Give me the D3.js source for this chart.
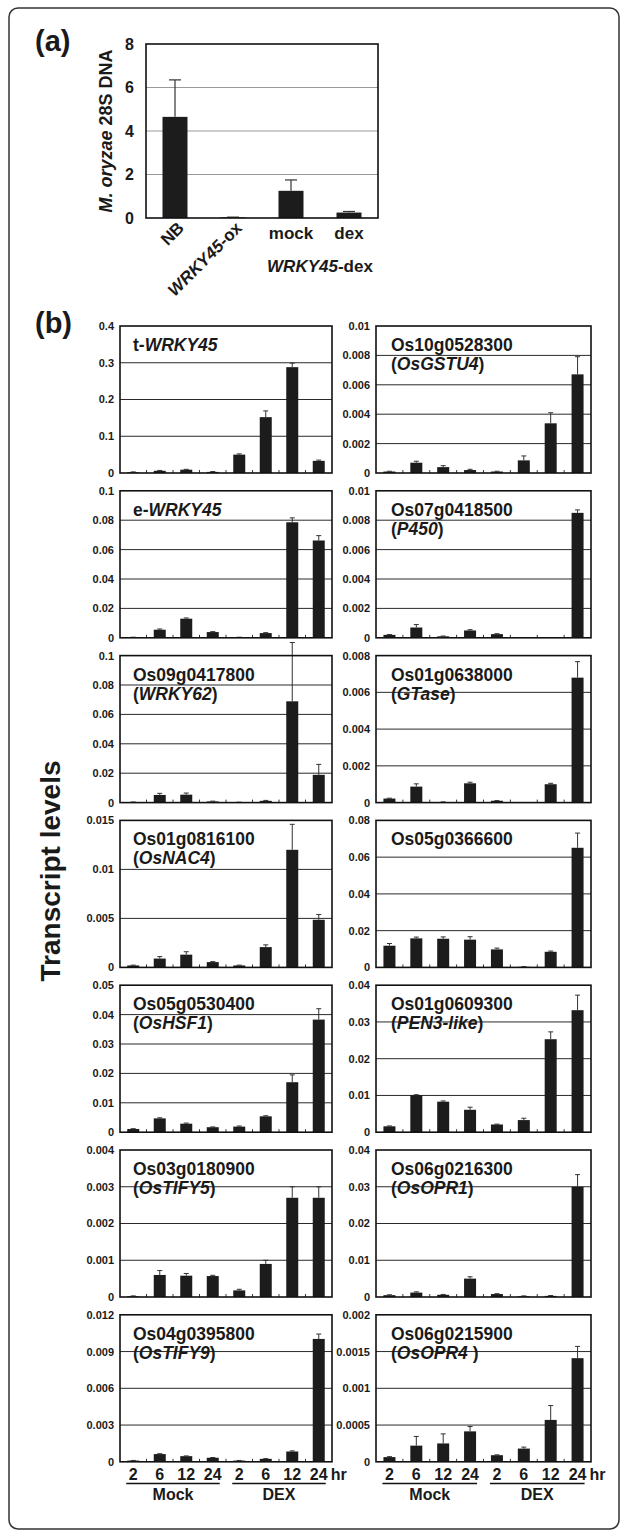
<!DOCTYPE html>
<html>
<head>
<meta charset="utf-8">
<script src="https://cdn.jsdelivr.net/npm/d3@7"></script>
<style>
  body { margin: 0; background: #fff; }
  text { font-family: "Liberation Sans", Arial, sans-serif; font-weight: bold; fill: #1a1a1a; }
</style>
</head>
<body>
<div id="viz"></div>
<script>
var width = 627;
var height = 1531;

// ---- panel (a) data
var aCategories = ["NB", "WRKY45-ox", "mock", "dex"];
var aValues = [4.65, 0.03, 1.25, 0.25];
var aErrors = [1.7, 0.01, 0.5, 0.05];
var aTicks = [0, 2, 4, 6, 8];

// ---- panel (b) data
var timeLabels = ["2", "6", "12", "24", "2", "6", "12", "24"];
var groupLabels = ["Mock", "DEX"];

var geneIds = ["t-", "Os10g0528300", "e-", "Os07g0418500", "Os09g0417800", "Os01g0638000",
  "Os01g0816100", "Os05g0366600", "Os05g0530400", "Os01g0609300", "Os03g0180900", "Os06g0216300",
  "Os04g0395800", "Os06g0215900"];
var geneNames = ["WRKY45", "OsGSTU4", "WRKY45", "P450", "WRKY62", "GTase",
  "OsNAC4", "", "OsHSF1", "PEN3-like", "OsTIFY5", "OsOPR1", "OsTIFY9", "OsOPR4 "];
var yMax = [0.4, 0.01, 0.1, 0.01, 0.1, 0.008, 0.015, 0.08, 0.05, 0.04, 0.004, 0.04, 0.012, 0.002];
var yStep = [0.1, 0.002, 0.02, 0.002, 0.02, 0.002, 0.005, 0.02, 0.01, 0.01, 0.001, 0.01, 0.003, 0.0005];

var tWRKY45 = [0.002, 0.006, 0.009, 0.003, 0.05, 0.152, 0.288, 0.033];
var tWRKY45Err = [0.001, 0.001, 0.001, 0.001, 0.002, 0.017, 0.011, 0.002];
var gstu4 = [0.0001, 0.0007, 0.0004, 0.0002, 0.0001, 0.00086, 0.00338, 0.00671];
var gstu4Err = [0.00002, 0.0001, 0.0001, 0.00005, 0.00002, 0.0003, 0.00072, 0.0012];
var eWRKY45 = [0.0003, 0.0055, 0.013, 0.0039, 0.0003, 0.0032, 0.0786, 0.0662];
var eWRKY45Err = [0.0001, 0.0005, 0.0005, 0.0003, 0.0001, 0.0003, 0.003, 0.0033];
var p450 = [0.0002, 0.0007, 0.0001, 0.0005, 0.00025, 0.00003, 0.00003, 0.0085];
var p450Err = [0.00002, 0.0002, 0.00002, 0.00005, 0.00003, 0, 0, 0.0002];
var wrky62 = [0.0003, 0.0052, 0.0054, 0.0008, 0.0002, 0.0012, 0.0689, 0.0189];
var wrky62Err = [0.0001, 0.0011, 0.0011, 0.0002, 0.0001, 0.0003, 0.04, 0.0071];
var gtase = [0.00022, 0.00087, 0.00003, 0.00105, 0.0001, 0.00001, 0.001, 0.0068];
var gtaseErr = [0.00002, 0.00015, 0.00001, 0.00006, 0.00001, 0, 0.00005, 0.00087];
var nac4 = [0.0002, 0.0009, 0.0013, 0.00054, 0.0002, 0.00207, 0.012, 0.00486];
var nac4Err = [0.00003, 0.0002, 0.0003, 0.00005, 0.00003, 0.00023, 0.0026, 0.00054];
var os0366600 = [0.0118, 0.0158, 0.0156, 0.0151, 0.0098, 0.0003, 0.0085, 0.0651];
var os0366600Err = [0.0012, 0.0007, 0.001, 0.0016, 0.0007, 0.0001, 0.0004, 0.008];
var hsf1 = [0.0011, 0.0047, 0.0029, 0.0017, 0.0019, 0.0054, 0.017, 0.0383];
var hsf1Err = [0.0001, 0.0002, 0.0002, 0.0001, 0.0002, 0.0002, 0.0025, 0.0037];
var pen3 = [0.0016, 0.0101, 0.0083, 0.0061, 0.0021, 0.0033, 0.0253, 0.0332];
var pen3Err = [0.0001, 0.0001, 0.0002, 0.0007, 0.0001, 0.0005, 0.002, 0.0041];
var tify5 = [0.00002, 0.0006, 0.00058, 0.00057, 0.00018, 0.0009, 0.0027, 0.0027];
var tify5Err = [0.00001, 0.00012, 0.00006, 0.00002, 0.00003, 0.0001, 0.0003, 0.0003];
var opr1 = [0.0005, 0.0012, 0.0006, 0.005, 0.0008, 0.0002, 0.0003, 0.03];
var opr1Err = [0.0001, 0.0002, 0.0001, 0.0005, 0.0001, 0.0001, 0.0001, 0.0033];
var tify9 = [0.0001, 0.00063, 0.00046, 0.00033, 0.0001, 0.00024, 0.00084, 0.01003];
var tify9Err = [0.00001, 0.00003, 0.00002, 0.00002, 0.00001, 0.00002, 0.00005, 0.0004];
var opr4 = [0.000064, 0.00022, 0.00025, 0.000414, 0.00009, 0.00018, 0.00057, 0.00141];
var opr4Err = [0.000006, 0.000125, 0.00013, 0.000066, 0.000005, 0.00002, 0.000195, 0.00016];

var bValues = [tWRKY45, gstu4, eWRKY45, p450, wrky62, gtase, nac4, os0366600, hsf1, pen3, tify5, opr1, tify9, opr4];
var bErrors = [tWRKY45Err, gstu4Err, eWRKY45Err, p450Err, wrky62Err, gtaseErr, nac4Err, os0366600Err,
  hsf1Err, pen3Err, tify5Err, opr1Err, tify9Err, opr4Err];

var svg = d3.select("#viz")
  .append("svg")
    .attr("width", width)
    .attr("height", height)
    .style("background-color", "#fff");

// outer frame
svg.append("rect")
  .attr("x", 9).attr("y", 8)
  .attr("width", 610).attr("height", 1521)
  .attr("rx", 9)
  .attr("fill", "none")
  .attr("stroke", "#333")
  .attr("stroke-width", 1.5);

svg.append("text").attr("x", 35).attr("y", 51).style("font-size", "29px").text("(a)");
svg.append("text").attr("x", 35).attr("y", 333).style("font-size", "29px").text("(b)");

//---------------- panel (a)
var ax0 = 146, ax1 = 378, ay0 = 44, ay1 = 218;
var xa = d3.scaleBand().domain(aCategories).range([ax0, ax1]);
var ya = d3.scaleLinear().domain([0, 8]).range([ay1, ay0]);

var ga = svg.append("g");
ga.selectAll("line.grid")
  .data(aTicks.slice(1, -1))
  .join("line")
    .attr("x1", ax0).attr("x2", ax1)
    .attr("y1", d => ya(d)).attr("y2", d => ya(d))
    .attr("stroke", "#9a9a9a").attr("stroke-width", 1);

ga.selectAll("rect.bar")
  .data(aValues)
  .join("rect")
    .attr("x", (d, i) => xa(aCategories[i]) + xa.bandwidth() / 2 - 12.5)
    .attr("y", d => ya(d))
    .attr("width", 25)
    .attr("height", d => ya(0) - ya(d))
    .attr("fill", "#1c1c1c");

ga.selectAll("g.err")
  .data(aValues)
  .join("g")
  .each(function(d, i) {
    var cx = xa(aCategories[i]) + xa.bandwidth() / 2;
    var top = ya(d + aErrors[i]);
    d3.select(this).append("line")
      .attr("x1", cx).attr("x2", cx).attr("y1", ya(d)).attr("y2", top)
      .attr("stroke", "#333").attr("stroke-width", 1.2);
    d3.select(this).append("line")
      .attr("x1", cx - 6).attr("x2", cx + 6).attr("y1", top).attr("y2", top)
      .attr("stroke", "#333").attr("stroke-width", 1.2);
  });

ga.append("rect")
  .attr("x", ax0).attr("y", ay0)
  .attr("width", ax1 - ax0).attr("height", ay1 - ay0)
  .attr("fill", "none").attr("stroke", "#111").attr("stroke-width", 1.6);

ga.selectAll("text.tick")
  .data(aTicks)
  .join("text")
    .attr("x", 134).attr("y", d => ya(d))
    .attr("dy", "0.36em")
    .attr("text-anchor", "end")
    .style("font-size", "16px")
    .text(d => d);

var ylab = ga.append("text")
  .attr("transform", "translate(112," + ((ay0 + ay1) / 2) + ") rotate(-90)")
  .attr("text-anchor", "middle")
  .style("font-size", "18px");
ylab.append("tspan").style("font-style", "italic").text("M. oryzae");
ylab.append("tspan").text(" 28S DNA");

// rotated labels for first two bars
[0, 1].forEach(function(i) {
  var cx = xa(aCategories[i]) + xa.bandwidth() / 2;
  var t = ga.append("text")
    .attr("transform", "translate(" + (cx + 10) + ",229) rotate(-45)")
    .attr("text-anchor", "end")
    .style("font-size", "17px");
  if (i === 0) {
    t.text(aCategories[i]);
  } else {
    t.append("tspan").style("font-style", "italic").text("WRKY45");
    t.append("tspan").text("-ox");
  }
});
[2, 3].forEach(function(i) {
  ga.append("text")
    .attr("x", xa(aCategories[i]) + xa.bandwidth() / 2)
    .attr("y", 239)
    .attr("text-anchor", "middle")
    .style("font-size", "17px")
    .text(aCategories[i]);
});
var dexLab = ga.append("text")
  .attr("x", (xa("mock") + xa("dex") + xa.bandwidth()) / 2)
  .attr("y", 272)
  .attr("text-anchor", "middle")
  .style("font-size", "17px");
dexLab.append("tspan").style("font-style", "italic").text("WRKY45");
dexLab.append("tspan").text("-dex");

//---------------- panel (b)
var colLeft = [120, 376];
var colWidth = [212, 215];
var rowTop = 326;
var rowPitch = 164.8;
var plotH = 147;
var fmt = d3.format("~g");

svg.append("text")
  .attr("transform", "translate(60,871) rotate(-90)")
  .attr("text-anchor", "middle")
  .style("font-size", "28px")
  .text("Transcript levels");

bValues.forEach(function(vals, k) {
  var col = k % 2, row = Math.floor(k / 2);
  var x0 = colLeft[col], x1 = colLeft[col] + colWidth[col];
  var y0 = rowTop + row * rowPitch, y1 = y0 + plotH;
  var errs = bErrors[k];

  var x = d3.scaleBand().domain(d3.range(8)).range([x0, x1]);
  var y = d3.scaleLinear().domain([0, yMax[k]]).range([y1, y0]);
  var ticks = d3.range(0, yMax[k] + yStep[k] / 2, yStep[k]);

  var g = svg.append("g");

  g.selectAll("line.grid")
    .data(ticks.slice(1, -1))
    .join("line")
      .attr("x1", x0).attr("x2", x1)
      .attr("y1", d => y(d)).attr("y2", d => y(d))
      .attr("stroke", "#2a2a2a").attr("stroke-width", 1);

  // small ticks between bars
  g.selectAll("line.xt")
    .data(d3.range(1, 8))
    .join("line")
      .attr("x1", d => x(d)).attr("x2", d => x(d))
      .attr("y1", y1).attr("y2", y1 - 3)
      .attr("stroke", "#333").attr("stroke-width", 1);

  g.selectAll("rect.bar")
    .data(vals)
    .join("rect")
      .attr("x", (d, i) => x(i) + x.bandwidth() / 2 - 6)
      .attr("y", d => y(d))
      .attr("width", 12)
      .attr("height", d => y(0) - y(d))
      .attr("fill", "#1c1c1c");

  g.selectAll("g.err")
    .data(vals)
    .join("g")
    .each(function(d, i) {
      if (errs[i] <= 0) return;
      var cx = x(i) + x.bandwidth() / 2;
      var top = y(d + errs[i]);
      d3.select(this).append("line")
        .attr("x1", cx).attr("x2", cx).attr("y1", y(d)).attr("y2", top)
        .attr("stroke", "#333").attr("stroke-width", 1);
      d3.select(this).append("line")
        .attr("x1", cx - 2.5).attr("x2", cx + 2.5).attr("y1", top).attr("y2", top)
        .attr("stroke", "#333").attr("stroke-width", 1);
    });

  g.append("rect")
    .attr("x", x0).attr("y", y0)
    .attr("width", x1 - x0).attr("height", plotH)
    .attr("fill", "none").attr("stroke", "#111").attr("stroke-width", 1.6);

  g.selectAll("text.tick")
    .data(ticks)
    .join("text")
      .attr("x", x0 - 6).attr("y", d => y(d))
      .attr("dy", "0.36em")
      .attr("text-anchor", "end")
      .style("font-size", "11px")
      .text(d => fmt(+d.toPrecision(6)));

  // title
  var tx = x0 + (col === 0 ? 13 : 15);
  if (geneIds[k].length < 4) {
    var t = g.append("text").attr("x", tx).attr("y", y0 + 25).style("font-size", "17.5px");
    t.append("tspan").text(geneIds[k]);
    t.append("tspan").style("font-style", "italic").text(geneNames[k]);
  } else {
    g.append("text").attr("x", tx).attr("y", y0 + 25).style("font-size", "17.5px").text(geneIds[k]);
    if (geneNames[k] !== "") {
      var t2 = g.append("text").attr("x", tx).attr("y", y0 + 44).style("font-size", "17.5px");
      t2.append("tspan").text("(");
      t2.append("tspan").style("font-style", "italic").text(geneNames[k]);
      t2.append("tspan").text(")");
    }
  }

  // time labels on the last row
  if (row === 6) {
    g.selectAll("text.time")
      .data(timeLabels)
      .join("text")
        .attr("x", (d, i) => x(i) + x.bandwidth() / 2)
        .attr("y", 1480)
        .attr("text-anchor", "middle")
        .style("font-size", "16px")
        .text(d => d);
    g.append("text")
      .attr("x", x(7) + x.bandwidth() / 2 + 12)
      .attr("y", 1480)
      .style("font-size", "16px")
      .text("hr");
    groupLabels.forEach(function(lab, j) {
      var a = x(j * 4) + x.bandwidth() / 2 - 7;
      var b = x(j * 4 + 3) + x.bandwidth() / 2 + 7;
      g.append("line")
        .attr("x1", a).attr("x2", b).attr("y1", 1483.5).attr("y2", 1483.5)
        .attr("stroke", "#111").attr("stroke-width", 1.6);
      g.append("text")
        .attr("x", (a + b) / 2).attr("y", 1500)
        .attr("text-anchor", "middle")
        .style("font-size", "16px")
        .text(lab);
    });
  }
});
</script>
</body>
</html>
